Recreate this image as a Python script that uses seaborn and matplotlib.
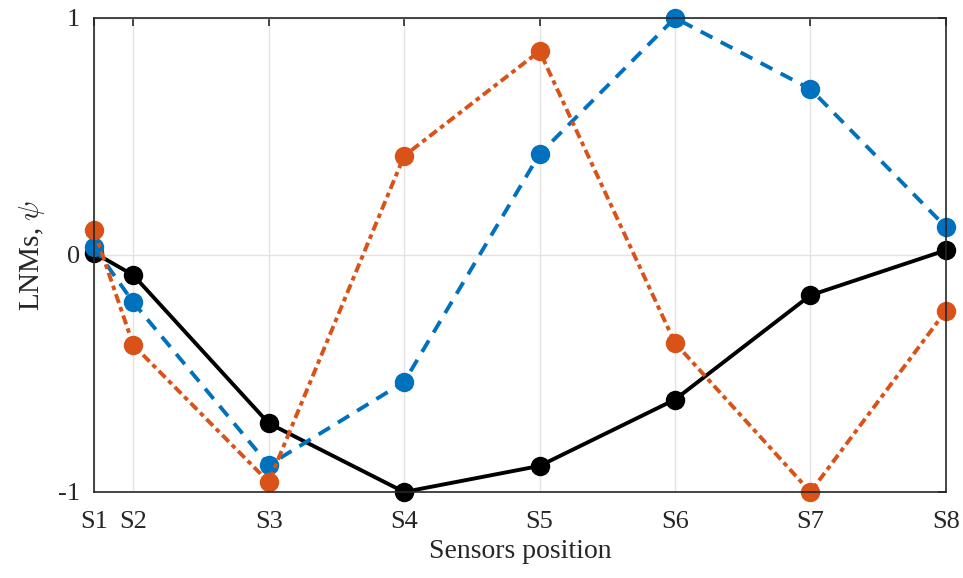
import pandas as pd
import matplotlib
matplotlib.use("Agg")
import matplotlib.pyplot as plt
import seaborn as sns

# Sensor labels and their positions along the x axis
sensors = ['S1', 'S2', 'S3', 'S4', 'S5', 'S6', 'S7', 'S8']
positions = [0.0, 0.29, 1.29, 2.29, 3.29, 4.29, 5.29, 6.29]

# Mode shape values
mode1 = [0.01, -0.085, -0.71, -1.0, -0.89, -0.61, -0.17, 0.02]
mode2 = [0.035, -0.20, -0.886, -0.536, 0.426, 1.0, 0.70, 0.118]
mode3 = [0.105, -0.38, -0.958, 0.418, 0.86, -0.371, -1.0, -0.236]

sns.set_style("white")
plt.rcParams['font.family'] = ['Liberation Serif', 'DejaVu Serif']
plt.rcParams['mathtext.fontset'] = 'cm'

fig = plt.figure(figsize=(9.63, 5.78), dpi=100)
ax = fig.add_axes([0.0976, 0.1488, 0.9822 - 0.0976, 0.9689 - 0.1488])

series = [
    (mode1, 'black', '-'),
    (mode2, '#0072BD', (0, (3.4, 2.4))),
    (mode3, '#D95319', (0, (2.4, 1.1, 1.2, 1.1))),
]
for values, color, ls in series:
    df = pd.DataFrame({'x': positions, 'y': values})
    sns.lineplot(data=df, x='x', y='y', ax=ax, color=color, linestyle=ls,
                 linewidth=2.8, marker='o', markersize=14, markeredgewidth=0,
                 markerfacecolor=color, sort=False, clip_on=False, zorder=3)

ax.set_xlim(positions[0], positions[-1])
ax.set_ylim(-1, 1)
ax.set_xticks(positions)
ax.set_xticklabels(sensors)
ax.set_yticks([-1, 0, 1])
ax.set_yticklabels(['-1', '0', '1'])

ax.grid(True, color='#e3e3e3', linewidth=1.0)
ax.set_axisbelow(True)
ax.tick_params(direction='in', top=True, right=True, length=6, width=1.2,
               labelsize=19, colors='#262626')
ax.tick_params(axis='x', pad=14)
ax.tick_params(axis='y', pad=10)
for sp in ax.spines.values():
    sp.set_color('#262626')
    sp.set_linewidth(1.2)
    sp.set_zorder(4)

ax.set_xlabel('Sensors position', fontsize=20, color='#262626', labelpad=4)
ax.set_ylabel(r'LNMs, $\psi$', fontsize=21, color='#262626', labelpad=8)

fig.savefig('out.png', dpi=100)
